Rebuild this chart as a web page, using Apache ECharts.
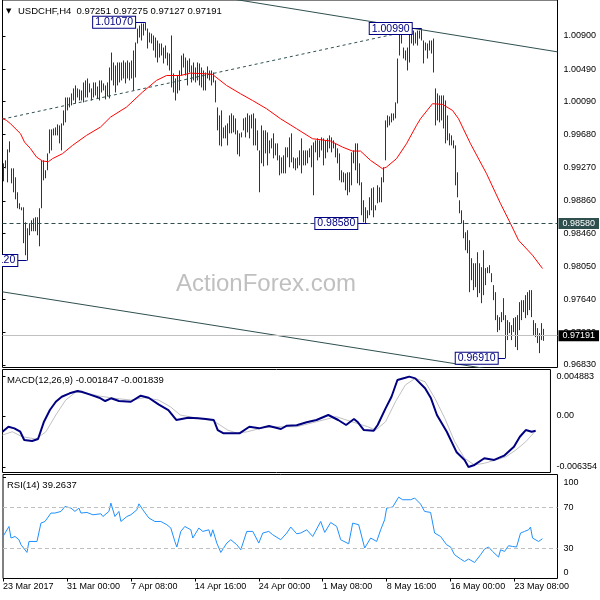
<!DOCTYPE html>
<html><head><meta charset="utf-8">
<script src="https://cdn.jsdelivr.net/npm/echarts@6/dist/echarts.min.js"></script>
<style>html,body{margin:0;padding:0;background:#fff}#c{width:600px;height:600px}</style>
</head><body><div id="c"></div>
<script>
// ---------- DATA ----------
const barHigh = [
0.99323,0.99360,0.99496,0.99595,0.99261,0.99261,0.99150,0.98965,0.98829,0.98779,
0.98779,0.98594,0.98520,0.98582,0.98619,0.98643,0.98656,0.98656,0.98767,0.99360,
0.99360,0.99237,0.99446,0.99743,0.99743,0.99755,0.99768,0.99805,0.99792,0.99817,
0.99978,1.00138,1.00138,1.00138,1.00188,1.00250,1.00287,1.00250,1.00237,1.00225,
1.00324,1.00349,1.00373,1.00312,1.00250,1.00324,1.00324,1.00274,1.00349,1.00349,
1.00312,1.00287,1.00324,1.00509,1.00694,1.00571,1.00534,1.00571,1.00571,1.00571,
1.00596,1.00571,1.00596,1.00571,1.00596,1.00719,1.00818,1.00991,1.01028,1.01053,
1.01053,1.01070,1.00991,1.00942,1.00929,1.00905,1.00880,1.00843,1.00806,1.00806,
1.00756,1.00781,1.00694,1.00682,1.00905,1.00435,1.00373,1.00410,1.00472,1.00657,
1.00682,1.00632,1.00596,1.00620,1.00534,1.00571,1.00509,1.00571,1.00559,1.00509,
1.00472,1.00447,1.00522,1.00472,1.00472,1.00447,1.00349,1.00015,0.99916,0.99978,
0.99768,0.99792,0.99817,0.99916,0.99941,0.99916,0.99879,0.99731,0.99694,0.99706,
0.99879,0.99891,0.99941,0.99916,0.99928,0.99941,0.99879,0.99731,0.99483,0.99792,
0.99731,0.99731,0.99706,0.99607,0.99632,0.99694,0.99570,0.99570,0.99422,0.99397,
0.99422,0.99521,0.99521,0.99644,0.99694,0.99397,0.99385,0.99397,0.99483,0.99632,
0.99483,0.99483,0.99483,0.99508,0.99545,0.99582,0.99607,0.99632,0.99607,0.99644,
0.99632,0.99607,0.99632,0.99669,0.99644,0.99607,0.99570,0.99508,0.99446,0.99237,
0.99212,0.99199,0.99212,0.99212,0.99459,0.99483,0.99570,0.99570,0.99323,0.99088,
0.98866,0.98779,0.98742,0.98903,0.99014,0.99026,0.98804,0.99051,0.99026,0.99150,
0.99274,0.99854,0.99916,0.99904,0.99941,0.99941,1.00077,1.00620,1.00929,1.00942,
1.00756,1.00719,1.00756,1.00942,1.00970,1.00966,1.00942,1.00966,1.00966,1.00990,
1.00843,1.00818,1.00806,1.00843,1.00843,1.00867,1.00250,1.00188,1.00163,1.00163,
1.00163,1.00101,0.99916,0.99694,0.99669,0.99607,0.99545,0.99212,0.98866,0.98742,
0.98619,0.98470,0.98495,0.98372,0.98149,0.98087,0.98087,0.98223,0.98087,0.98038,
0.98248,0.98026,0.98038,0.98063,0.97964,0.97816,0.97729,0.97445,0.97420,0.97482,
0.97655,0.97445,0.97383,0.97358,0.97321,0.97408,0.97420,0.97445,0.97606,0.97630,
0.97630,0.97692,0.97729,0.97754,0.97754,0.97383,0.97346,0.97284,0.97222,0.97346,
0.97275];
const barLow = [
0.99101,0.99261,0.99088,0.99459,0.99076,0.98965,0.98878,0.98767,0.98755,0.98742,
0.98335,0.98186,0.98120,0.98433,0.98483,0.98483,0.98483,0.98433,0.98297,0.98767,
0.99113,0.99138,0.99237,0.99446,0.99483,0.99669,0.99669,0.99669,0.99570,0.99483,
0.99792,0.99830,0.99978,1.00015,1.00040,1.00101,1.00064,1.00138,1.00101,1.00101,
1.00077,1.00138,1.00138,1.00200,1.00101,1.00138,1.00163,1.00126,1.00101,1.00200,
1.00225,1.00114,1.00151,1.00126,1.00349,1.00287,1.00200,1.00287,1.00324,1.00349,
1.00373,1.00312,1.00373,1.00349,1.00373,1.00225,1.00386,1.00806,1.00880,1.00843,
1.00905,1.00966,1.00744,1.00818,1.00806,1.00719,1.00632,1.00571,1.00632,1.00657,
1.00559,1.00620,1.00534,1.00472,1.00262,1.00200,1.00101,1.00188,1.00225,1.00410,
1.00509,1.00410,1.00287,1.00447,1.00324,1.00349,1.00324,1.00349,1.00287,1.00262,
1.00225,1.00225,1.00373,1.00349,1.00287,1.00324,1.00077,0.99731,0.99545,0.99533,
0.99632,0.99632,0.99545,0.99694,0.99694,0.99706,0.99681,0.99434,0.99409,0.99644,
0.99731,0.99644,0.99706,0.99632,0.99755,0.99545,0.99545,0.99483,0.98965,0.99323,
0.99286,0.99446,0.99298,0.99446,0.99508,0.99385,0.99422,0.99360,0.99175,0.99199,
0.99199,0.99199,0.99397,0.99274,0.99335,0.99261,0.99237,0.99261,0.99298,0.99199,
0.99298,0.99298,0.99323,0.99397,0.99274,0.98928,0.99459,0.99360,0.99397,0.99483,
0.99298,0.99385,0.99459,0.99508,0.99459,0.99508,0.99397,0.99323,0.99113,0.99088,
0.99088,0.98989,0.98928,0.98965,0.99051,0.99323,0.99237,0.99076,0.99051,0.98681,
0.98594,0.98580,0.98643,0.98681,0.98742,0.98656,0.98742,0.98829,0.98841,0.98841,
0.99088,0.99360,0.99768,0.99792,0.99830,0.99854,0.99879,1.00064,1.00657,1.00806,
1.00620,1.00596,1.00472,1.00571,1.00806,1.00781,1.00806,1.00781,1.00867,1.00843,
1.00559,1.00719,1.00620,1.00719,1.00682,1.00447,0.99792,0.99854,0.99830,0.99854,
0.99755,0.99570,0.99607,0.99545,0.99545,0.99508,0.99051,0.98903,0.98705,0.98582,
0.98396,0.98248,0.98211,0.97729,0.97877,0.97754,0.97791,0.97667,0.97717,0.97593,
0.97692,0.97816,0.97964,0.97964,0.97853,0.97630,0.97383,0.97235,0.97259,0.97358,
0.97383,0.96910,0.97136,0.97222,0.97136,0.97235,0.97050,0.97012,0.97259,0.97383,
0.97482,0.97408,0.97445,0.97506,0.97420,0.97198,0.97173,0.97099,0.96975,0.97136,
0.97127];

const maIdx = [0,2,4,9,11,14,17,20,23,25,30,35,42,49,54,62,70,77,82,89,94,102,105,112,119,125,132,139,147,155,164,170,175,179,184,190,192,197,202,207,209,215,220,225,228,234,242,249,254,258,265,270];
const maVal = [0.99879,0.99854,0.99813,0.99690,0.99586,0.99505,0.99401,0.99351,0.99344,0.99381,0.99443,0.99545,0.99669,0.99772,0.99895,1.00019,1.00204,1.00349,1.00410,1.00410,1.00439,1.00431,1.00423,1.00287,1.00184,1.00101,0.99999,0.99875,0.99752,0.99628,0.99599,0.99524,0.99475,0.99475,0.99360,0.99257,0.99277,0.99381,0.99566,0.99793,0.99875,1.00061,1.00052,0.99978,0.99875,0.99566,0.99196,0.98825,0.98578,0.98372,0.98186,0.98022];

const macdIdx = [0,3,6,9,11,15,18,21,24,27,30,34,38,40,44,49,52,55,59,65,70,74,79,84,88,89,94,99,103,107,109,112,117,120,125,130,135,141,144,149,154,159,165,170,174,178,180,183,188,190,194,197,200,204,206,209,214,217,220,225,230,234,236,239,244,249,254,259,262,265,268,270];
const macdVal = [-0.00197,-0.00135,-0.00155,-0.00197,-0.00300,-0.00312,-0.00287,-0.00072,0.00073,0.00176,0.00238,0.00281,0.00309,0.00300,0.00268,0.00226,0.00185,0.00219,0.00185,0.00176,0.00251,0.00226,0.00144,0.00073,-0.00051,-0.00030,-0.00023,-0.00030,-0.00039,-0.00051,-0.00176,-0.00217,-0.00217,-0.00217,-0.00135,-0.00155,-0.00126,-0.00163,-0.00122,-0.00116,-0.00080,-0.00051,0.00011,-0.00051,-0.00113,-0.00039,-0.00080,-0.00176,-0.00184,-0.00113,0.00094,0.00238,0.00446,0.00474,0.004883,0.00467,0.00343,0.00218,0.00011,-0.00197,-0.00453,-0.00548,-0.006354,-0.00610,-0.00527,-0.00548,-0.00495,-0.00383,-0.00259,-0.00176,-0.00197,-0.001847];

const sigIdx = [0,5,10,17,22,27,32,37,42,49,57,65,72,79,85,90,99,107,114,119,124,132,140,149,159,169,177,185,189,194,199,204,209,214,219,224,229,234,239,244,250,255,260,265,270];
const sigVal = [-0.00238,-0.00197,-0.00259,-0.00288,-0.00197,0.00011,0.00197,0.00293,0.00288,0.00247,0.00218,0.00197,0.00226,0.00197,0.00114,0.00011,-0.00030,-0.00064,-0.00176,-0.00217,-0.00197,-0.00147,-0.00135,-0.00135,-0.00073,-0.00010,-0.00073,-0.00135,-0.00176,-0.00073,0.00176,0.00384,0.00467,0.00425,0.00218,-0.00030,-0.00321,-0.00527,-0.00610,-0.00589,-0.00548,-0.00507,-0.00424,-0.00321,-0.001839];

const rsiIdx = [0,3,4,6,8,9,12,13,14,17,19,21,24,26,29,31,34,36,38,39,42,45,49,50,53,54,56,58,59,62,64,67,68,70,73,76,79,82,84,86,87,89,91,94,95,98,100,103,104,105,107,109,112,114,117,119,122,125,128,130,133,135,139,142,144,147,149,152,155,159,161,164,167,169,173,175,178,181,184,185,187,189,191,192,195,198,200,204,206,209,211,214,216,219,220,222,224,226,229,231,233,236,239,241,243,245,248,249,251,253,255,257,259,261,263,264,265,268,270];
const rsiVal = [41.4,51.3,39.9,41.4,38.2,33.3,25.7,36.5,38.2,36.5,54.6,56.2,64.5,64.5,66.1,71.0,69.4,66.1,69.4,64.5,65.1,62.8,63.8,61.1,66.1,74.3,61.1,66.1,56.2,61.1,62.8,67.7,73.6,67.7,59.6,56.2,56.2,53.0,49.7,36.5,31.0,46.4,51.3,48.0,39.9,49.7,46.4,48.0,41.4,48.0,34.9,25.7,34.9,38.2,33.3,28.3,46.4,46.4,34.9,44.8,46.4,43.1,38.2,44.8,50.7,44.1,44.8,48.0,41.4,56.2,45.4,55.2,51.3,38.2,34.2,54.6,53.0,30.0,39.9,39.9,36.5,48.0,57.9,69.4,70.4,80.2,77.6,77.6,79.3,73.3,66.1,65.1,44.8,41.4,43.1,33.3,31.0,23.4,19.2,16.8,19.2,15.8,23.4,29.0,31.0,26.7,21.1,28.3,26.7,32.3,31.6,31.0,44.8,46.4,48.0,50.7,39.9,36.5,39.26];

const upperTrendIdx = [100, 277.5], upperTrendVal = [1.01417, 1.00702];
const midTrendIdx = [0, 197], midTrendVal = [0.99870, 1.00927];
const lowerTrendIdx = [0, 277.5], lowerTrendVal = [0.97733, 0.96643];

const annText = ['1.01070','1.00990','0.98580','0.98120','0.96910'];
const annValue = [1.0107, 1.0099, 0.9858, 0.9812, 0.9691];
const annFrom = [66.3, 204.6, 177.4, 7.4, 247.6];
const annTo = [71.3, 209.6, 182.3, 12.1, 251.3];

const supportLevel = 0.9858, supportText = '0.98580';
const lastPrice = 0.97191, lastText = '0.97191';

const xTickIdx = [0,32,64,96,128,160,192,224,256];
const xLabels = ['23 Mar 2017','31 Mar 00:00','7 Apr 08:00','14 Apr 16:00','24 Apr 00:00','1 May 08:00','8 May 16:00','16 May 00:00','23 May 08:00'];
const priceTicks = [1.0090,1.0049,1.0009,0.9968,0.9927,0.9886,0.9846,0.9805,0.9764,0.9723,0.9683];
const macdTicks = [0.004883, 0, -0.006354];
const rsiTicks = [0, 30, 70, 100];
const rsiLevels = [30, 70];

const headerText = 'USDCHF,H4  0.97251 0.97275 0.97127 0.97191';
const macdText = 'MACD(12,26,9) -0.001847 -0.001839';
const rsiText = 'RSI(14) 39.2637';
const watermark = 'ActionForex.com';

// ---------- CHART ----------
const FONT = '"Liberation Sans", Arial, sans-serif';
const chart = echarts.init(document.getElementById('c'), null, {renderer: 'canvas'});
const pairs = (a, b) => a.map((x, k) => [x, b[k]]);
const axisTxt = {fontSize: 9, fontFamily: FONT, color: '#000'};
const hiddenX = (g) => ({gridIndex: g, type: 'value', min: 0, max: 277.5, show: false});

const option = {
  animation: false,
  grid: [
    {left: 2.5, top: -0.5, width: 555, height: 368, show: true, borderColor: '#000', borderWidth: 1},
    {left: 2.5, top: 369.5, width: 555, height: 103, show: true, borderColor: '#000', borderWidth: 1},
    {left: 2.5, top: 474.5, width: 555, height: 104, show: true, borderColor: '#000', borderWidth: 1}
  ],
  xAxis: [
    hiddenX(0), hiddenX(1),
    {gridIndex: 2, type: 'value', min: 0, max: 277.5,
      axisLine: {show: false}, splitLine: {show: false},
      axisTick: {show: true, customValues: xTickIdx, length: 3, lineStyle: {color: '#000'}},
      axisLabel: Object.assign({customValues: xTickIdx, align: 'left', margin: 4,
        formatter: (v) => xLabels[xTickIdx.indexOf(v)]}, axisTxt)}
  ],
  yAxis: [
    {gridIndex: 0, type: 'value', position: 'right', min: 0.96797, max: 1.01344,
      splitLine: {show: false}, axisLine: {show: false},
      axisTick: {show: true, customValues: priceTicks, length: 3, lineStyle: {color: '#000'}},
      axisLabel: Object.assign({customValues: priceTicks, margin: 6, formatter: (v) => v.toFixed(5)}, axisTxt)},
    {gridIndex: 1, type: 'value', position: 'right', min: -0.00704, max: 0.00577,
      splitLine: {show: false}, axisLine: {show: false},
      axisTick: {show: true, customValues: macdTicks, length: 3, lineStyle: {color: '#000'}},
      axisLabel: Object.assign({customValues: macdTicks, margin: 6,
        formatter: (v) => (v === 0 ? '0.00' : v.toFixed(6))}, axisTxt)},
    {gridIndex: 2, type: 'value', position: 'right', min: 0, max: 102.5,
      splitLine: {show: false}, axisLine: {show: false},
      axisTick: {show: true, customValues: rsiTicks, length: 3, lineStyle: {color: '#000'}},
      axisLabel: Object.assign({customValues: rsiTicks, margin: 6,
        formatter: (v) => (v === 100 ? '{a|100}' : v === 0 ? '{b|0}' : '{c|' + v + '}'),
        rich: {a: Object.assign({padding: [11, 0, 0, 0]}, axisTxt),
               b: Object.assign({padding: [0, 0, 12, 0]}, axisTxt),
               c: Object.assign({}, axisTxt)}}, axisTxt)}
  ],
  graphic: [
    {type: 'rect', x: 0, y: 0, z: 100, shape: {width: 2, height: 600}, style: {fill: '#fff'}},
    {type: 'text', x: 6, y: 11, z: 10, style: {text: '▼', font: '7px "DejaVu Sans"', fill: '#000', verticalAlign: 'middle'}},
    {type: 'text', x: 18, y: 11, z: 10, style: {text: headerText, font: '9.5px ' + FONT, fill: '#000', verticalAlign: 'middle'}},
    {type: 'text', x: 7, y: 380, z: 10, style: {text: macdText, font: '9.5px ' + FONT, fill: '#000', verticalAlign: 'middle'}},
    {type: 'text', x: 7, y: 485, z: 10, style: {text: rsiText, font: '9.5px ' + FONT, fill: '#000', verticalAlign: 'middle'}},
    {type: 'text', x: 176, y: 284, z: -1, style: {text: watermark, font: '24px ' + FONT, fill: '#c0c0c0', verticalAlign: 'middle'}}
  ],
  series: [
    {type: 'line', xAxisIndex: 0, yAxisIndex: 0, data: pairs(upperTrendIdx, upperTrendVal), showSymbol: false, silent: true, clip: true,
      lineStyle: {color: '#2f4f4f', width: 1}},
    {type: 'line', xAxisIndex: 0, yAxisIndex: 0, data: pairs(midTrendIdx, midTrendVal), showSymbol: false, silent: true, clip: true,
      lineStyle: {color: '#2f4f4f', width: 1, type: [3, 3]}},
    {type: 'line', xAxisIndex: 0, yAxisIndex: 0, data: pairs(lowerTrendIdx, lowerTrendVal), showSymbol: false, silent: true, clip: true,
      lineStyle: {color: '#2f4f4f', width: 1}},
    {type: 'custom', xAxisIndex: 0, yAxisIndex: 0, silent: true, clip: true,
      data: barLow.map((l, i) => [i, l, barHigh[i]]),
      renderItem: (params, api) => {
        const i = api.value(0);
        const p1 = api.coord([i, api.value(1)]);
        const p2 = api.coord([i, api.value(2)]);
        const x = Math.round(p1[0]) + 0.5;
        let y1 = p1[1], y2 = p2[1];
        if (y1 - y2 < 1) { y2 = y1 - 1; }
        return {type: 'line', shape: {x1: x, y1: y1, x2: x, y2: y2}, style: {stroke: '#123d5c', lineWidth: 1}};
      }},
    {type: 'line', xAxisIndex: 0, yAxisIndex: 0, data: pairs(maIdx, maVal), showSymbol: false, silent: true,
      lineStyle: {color: '#ff0000', width: 1},
      markLine: {silent: true, symbol: ['none', 'none'], animation: false, precision: 6,
        data: [
          {yAxis: supportLevel, lineStyle: {color: '#2f4f4f', width: 1, type: [4, 3]},
            label: {show: true, position: 'end', distance: 1, formatter: supportText, backgroundColor: '#2f4f4f', color: '#fff',
              padding: [1, 4, 1, 4], fontSize: 9, fontFamily: FONT}},
          {yAxis: lastPrice, lineStyle: {color: '#c0c0c0', width: 1, type: 'solid'},
            label: {show: true, position: 'end', distance: 1, formatter: lastText, backgroundColor: '#000', color: '#fff',
              padding: [1, 4, 1, 4], fontSize: 9, fontFamily: FONT}}
        ].concat(annValue.map((v, k) => [
          {coord: [annFrom[k], v], lineStyle: {color: '#000080', width: 1, type: 'solid'},
            label: {show: true, position: 'start', distance: 0, formatter: annText[k], backgroundColor: '#fff',
              borderColor: '#000080', borderWidth: 1, padding: [1, 2, 0, 2], color: '#000080', fontSize: 10.5, lineHeight: 10, fontFamily: FONT}},
          {coord: [annTo[k], v]}
        ]))}},
    {type: 'line', xAxisIndex: 1, yAxisIndex: 1, data: pairs(sigIdx, sigVal), showSymbol: false, silent: true,
      lineStyle: {color: '#c0c0c0', width: 1}},
    {type: 'line', xAxisIndex: 1, yAxisIndex: 1, data: pairs(macdIdx, macdVal), showSymbol: false, silent: true,
      lineStyle: {color: '#000080', width: 2}},
    {type: 'line', xAxisIndex: 2, yAxisIndex: 2, data: pairs(rsiIdx, rsiVal), showSymbol: false, silent: true,
      lineStyle: {color: '#1e90ff', width: 1},
      markLine: {silent: true, symbol: ['none', 'none'], animation: false, label: {show: false}, precision: 4,
        lineStyle: {color: '#c0c0c0', width: 1, type: [4, 3]},
        data: rsiLevels.map((v) => ({yAxis: v}))}}
  ]
};
chart.setOption(option);
</script></body></html>
